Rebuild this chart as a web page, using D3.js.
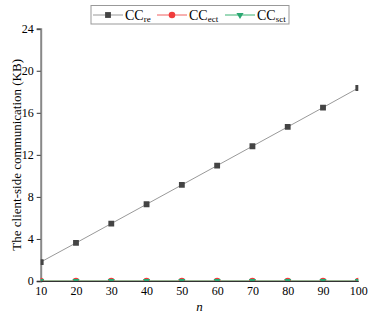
<!DOCTYPE html>
<html>
<head>
<meta charset="UTF-8">
<script src="https://d3js.org/d3.v7.min.js"></script>
<style>
  body { margin: 0; background: #fff; }
</style>
</head>
<body>
<div id="chart"></div>
<script>
// --- Data ---
const nValues = [10, 20, 30, 40, 50, 60, 70, 80, 90, 100];
const ccRe  = [1.8, 3.62, 5.46, 7.3, 9.14, 10.98, 12.82, 14.66, 16.5, 18.36];
const ccEct = [0, 0, 0, 0, 0, 0, 0, 0, 0, 0];
const ccSct = [0, 0, 0, 0, 0, 0, 0, 0, 0, 0];
const yTicks = [0, 4, 8, 12, 16, 20, 24];

const W = 374, H = 323;
const FONT = '"Liberation Serif"';
const m = { left: 40.7, right: 374 - 358.3, top: 28.7, bottom: 323 - 281 };

const svg = d3.select('#chart').append('svg')
  .attr('width', W).attr('height', H);

const x = d3.scaleLinear().domain([10, 100]).range([m.left, W - m.right]);
const y = d3.scaleLinear().domain([0, 24]).range([H - m.bottom, m.top]);

svg.append('defs').append('clipPath').attr('id', 'plot')
  .append('rect')
  .attr('x', m.left).attr('y', m.top)
  .attr('width', W - m.left - m.right).attr('height', H - m.top - m.bottom);

// --- Axes ---
const yAxis = svg.append('g')
  .attr('transform', `translate(${m.left},0)`)
  .call(d3.axisLeft(y).tickValues(yTicks).tickSize(4).tickPadding(3));
yAxis.select('.domain').attr('stroke', '#888').attr('stroke-width', 2);
yAxis.selectAll('.tick line').attr('stroke', '#333');
yAxis.selectAll('.tick text').attr('font-size', 12).attr('fill', '#000').style('font-family', FONT);

const xAxis = svg.append('g')
  .attr('transform', `translate(0,${H - m.bottom})`)
  .call(d3.axisBottom(x).tickValues(nValues).tickSize(0).tickPadding(5));
xAxis.select('.domain').attr('stroke', '#333').attr('stroke-width', 1);
xAxis.selectAll('.tick text').attr('font-size', 12).attr('fill', '#000').style('font-family', FONT);

// axis titles
svg.append('text')
  .attr('x', (m.left + W - m.right) / 2).attr('y', 311)
  .attr('text-anchor', 'middle').attr('font-size', 13).attr('font-style', 'italic')
  .style('font-family', FONT)
  .text('n');
svg.append('text')
  .attr('transform', `translate(21,${(m.top + H - m.bottom) / 2}) rotate(-90)`)
  .attr('text-anchor', 'middle').attr('font-size', 13)
  .style('font-family', FONT)
  .text('The client-side communication (KB)');

// --- Series ---
const series = [
  { key: 're',  values: ccRe,  line: '#999', lw: 1,   shape: 'square',   fill: '#444' },
  { key: 'ect', values: ccEct, line: '#f06060', lw: 1.2, shape: 'circle', fill: '#f03c3c' },
  { key: 'sct', values: ccSct, line: '#3bb273', lw: 1.2, shape: 'triangle', fill: '#2aa872' }
];

const symbolFor = s => s === 'square' ? d3.symbol(d3.symbolSquare, 34)
  : s === 'circle' ? d3.symbol(d3.symbolCircle, 34)
  : d3.symbol(d3.symbolTriangle, 22);

const plot = svg.append('g').attr('clip-path', 'url(#plot)');
const line = d3.line().x((d, i) => x(nValues[i])).y(d => y(d));

series.forEach(s => {
  plot.append('path').datum(s.values)
    .attr('d', line).attr('fill', 'none')
    .attr('stroke', s.line).attr('stroke-width', s.lw);
});
series.forEach(s => {
  plot.selectAll(null).data(s.values).enter().append('path')
    .attr('d', symbolFor(s.shape)())
    .attr('transform', (d, i) => `translate(${x(nValues[i])},${y(d)})` + (s.shape === 'triangle' ? ' rotate(180)' : ''))
    .attr('fill', s.fill);
});

// --- Legend ---
const lg = svg.append('g');
lg.append('rect').attr('x', 91).attr('y', 5.5).attr('width', 198).attr('height', 18.5)
  .attr('fill', '#fff').attr('stroke', '#999').attr('stroke-width', 1);
const lx = [93, 157, 225];
series.forEach((s, i) => {
  const g = lg.append('g').attr('transform', `translate(${lx[i]},15)`);
  g.append('line').attr('x1', 0).attr('x2', 30).attr('stroke', s.line).attr('stroke-width', 1);
  g.append('path').attr('d', symbolFor(s.shape)())
    .attr('transform', 'translate(15,0)' + (s.shape === 'triangle' ? ' rotate(180)' : ''))
    .attr('fill', s.fill);
  const t = g.append('text').attr('x', 32).attr('y', 4.5).attr('font-size', 14)
    .style('font-family', FONT);
  t.append('tspan').text('CC');
  t.append('tspan').attr('font-size', 9).attr('dy', 2).text(s.key);
});
</script>
</body>
</html>
